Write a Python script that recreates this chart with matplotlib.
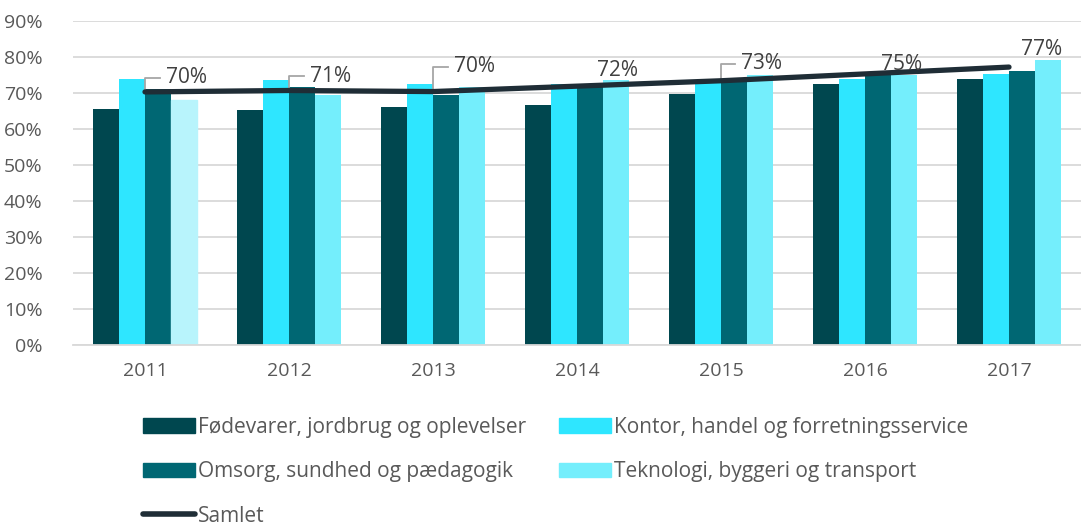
import numpy as np
import matplotlib
matplotlib.use('Agg')
import matplotlib.pyplot as plt
from matplotlib.lines import Line2D
from matplotlib.patches import Patch

plt.rcParams['font.family'] = ['Open Sans', 'DejaVu Sans']

years = ['2011', '2012', '2013', '2014', '2015', '2016', '2017']
series_names = ['Fødevarer, jordbrug og oplevelser',
                'Kontor, handel og forretningsservice',
                'Omsorg, sundhed og pædagogik',
                'Teknologi, byggeri og transport']
foedevarer = [65.6, 65.2, 66.0, 66.6, 69.7, 72.5, 74.0]
kontor = [73.9, 73.5, 72.5, 72.5, 72.8, 74.0, 75.2]
omsorg = [71.0, 71.6, 69.4, 72.0, 73.5, 75.0, 76.1]
teknologi = [68.0, 69.4, 71.8, 73.6, 75.0, 75.0, 79.2]
samlet = [70.3, 70.7, 70.4, 71.9, 73.4, 75.3, 77.2]
line_name = 'Samlet'

colors = ['#00474F', '#2EE6FF', '#006773', '#74EEFC']
line_color = '#1F2D36'
text_color = '#595959'
grid_color = '#D9D9D9'

# label placement (pixel offsets from point) and whether a leader line is drawn
label_dx = [23, 23, 23, 40, 22, 37, 33]
label_dy = [14, 14, 25, 16, 17, 9, 18]
leader = [True, True, True, False, True, False, False]

fig = plt.figure(figsize=(10.81, 5.28), dpi=100)
ax = fig.add_axes([73 / 1081, 1 - 345 / 528, 1 - 73 / 1081, 324 / 528])
ax.set_xlim(-0.5, 6.5)
ax.set_ylim(0, 90)

x = np.arange(len(years))
w = 0.182
all_series = [foedevarer, kontor, omsorg, teknologi]
for i, vals in enumerate(all_series):
    bars = ax.bar(x + (i - 1.5) * w, vals, width=w, color=colors[i], zorder=2)
    if i == 3:
        # first bar of this series is paler in the original
        bars[0].set_color('#B8F4FC')

ax.plot(x, samlet, color=line_color, lw=3.8, solid_capstyle='round', zorder=4)
ax.set_xlim(-0.5, 6.5)
ax.set_ylim(0, 90)

inv = ax.transData.inverted()
for xi, v, dx, dy, ld in zip(x, samlet, label_dx, label_dy, leader):
    if ld:
        base = ax.transData.transform((xi, v))
        p1 = inv.transform((base[0], base[1] + dy))
        p2 = inv.transform((base[0] + dx - 8, base[1] + dy))
        ax.plot([xi, p1[0], p2[0]], [v, p1[1], p2[1]], color='#A6A6A6', lw=1.3, zorder=3.5)
        ax.annotate(f'{v:.0f}%', (xi, v), xytext=(dx - 2, dy), textcoords='offset pixels',
                    ha='left', va='center', fontsize=15, color='#404040', zorder=5)
    else:
        ax.annotate(f'{v:.0f}%', (xi, v), xytext=(dx, dy), textcoords='offset pixels',
                    ha='center', va='center', fontsize=15, color='#404040', zorder=5)

ax.set_yticks(np.arange(0, 91, 10))
ax.set_yticklabels([f'{t}%' for t in range(0, 91, 10)])
ax.set_xticks(x)
ax.set_xticklabels(years)
ax.yaxis.grid(True, color=grid_color, lw=1.3, zorder=0)
ax.set_axisbelow(True)
for s in ['top', 'right', 'left']:
    ax.spines[s].set_visible(False)
ax.spines['bottom'].set_color(grid_color)
ax.spines['bottom'].set_linewidth(1.3)
ax.tick_params(axis='both', length=0, labelsize=14, colors=text_color)
ax.tick_params(axis='y', pad=22)
ax.tick_params(axis='x', pad=12)

handles = [Patch(color=colors[0]), Patch(color=colors[2]),
           Line2D([], [], color=line_color, lw=4, solid_capstyle='round'),
           Patch(color=colors[1]), Patch(color=colors[3])]
labels = [series_names[0], series_names[2], line_name, series_names[1], series_names[3]]
fig.legend(handles, labels, ncol=2, loc='upper left', bbox_to_anchor=(143 / 1081, 1 - 417 / 528),
           frameon=False, fontsize=15, labelcolor=text_color, handlelength=2.5,
           handleheight=0.7, handletextpad=0.12, columnspacing=1.6, labelspacing=1.12,
           borderaxespad=0, borderpad=0)

fig.savefig('out.png', dpi=100)
